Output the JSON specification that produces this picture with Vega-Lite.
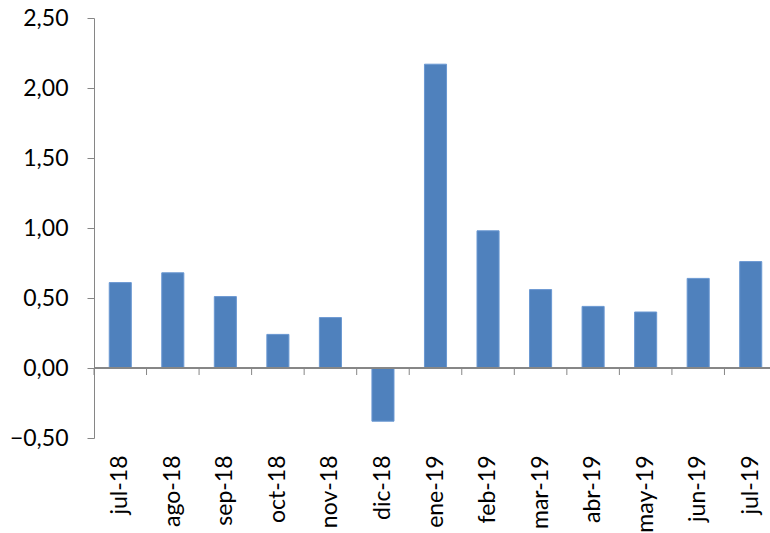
{
  "$schema": "https://vega.github.io/schema/vega-lite/v6.json",
  "width": 676,
  "height": 420,
  "autosize": {"type": "none"},
  "padding": {"left": 94, "top": 18, "right": 0, "bottom": 95},
  "config": {"view": {"stroke": null}, "font": "Lato"},
  "data": {
    "values": [
      {"mes": "jul-18", "valor": 0.61},
      {"mes": "ago-18", "valor": 0.68},
      {"mes": "sep-18", "valor": 0.51},
      {"mes": "oct-18", "valor": 0.24},
      {"mes": "nov-18", "valor": 0.36},
      {"mes": "dic-18", "valor": -0.38},
      {"mes": "ene-19", "valor": 2.17},
      {"mes": "feb-19", "valor": 0.98},
      {"mes": "mar-19", "valor": 0.56},
      {"mes": "abr-19", "valor": 0.44},
      {"mes": "may-19", "valor": 0.40},
      {"mes": "jun-19", "valor": 0.64},
      {"mes": "jul-19", "valor": 0.76}
    ]
  },
  "layer": [
    {
      "mark": {"type": "bar", "width": {"band": 0.42}, "fill": "#4F81BD", "stroke": "#6A98D2", "strokeWidth": 1},
      "encoding": {
        "x": {
          "field": "mes", "type": "ordinal", "sort": null, "title": null,
          "scale": {"range": [0, 683], "paddingInner": 0, "paddingOuter": 0},
          "axis": {"domain": false, "ticks": false, "labelAngle": -90, "labelPadding": 17, "labelFontSize": 23, "labelColor": "#000000"}
        },
        "y": {
          "field": "valor", "type": "quantitative", "title": null,
          "scale": {"domain": [-0.5, 2.5], "nice": false, "zero": false},
          "axis": {
            "values": [-0.5, 0, 0.5, 1, 1.5, 2, 2.5],
            "grid": false, "domainColor": "#868686", "tickColor": "#868686", "tickSize": 7,
            "labelPadding": 19, "labelFontSize": 23, "labelColor": "#000000",
            "labelExpr": "replace(format(datum.value, '.2f'), '.', ',')"
          }
        }
      }
    },
    {
      "mark": {"type": "rule", "color": "#868686", "strokeWidth": 1},
      "encoding": {"y": {"datum": 0}}
    },
    {
      "mark": {"type": "rule", "color": "#868686", "strokeWidth": 1},
      "encoding": {
        "x": {"field": "mes", "type": "ordinal", "sort": null, "bandPosition": 0},
        "y": {"datum": 0},
        "y2": {"datum": -0.05}
      }
    }
  ]
}
